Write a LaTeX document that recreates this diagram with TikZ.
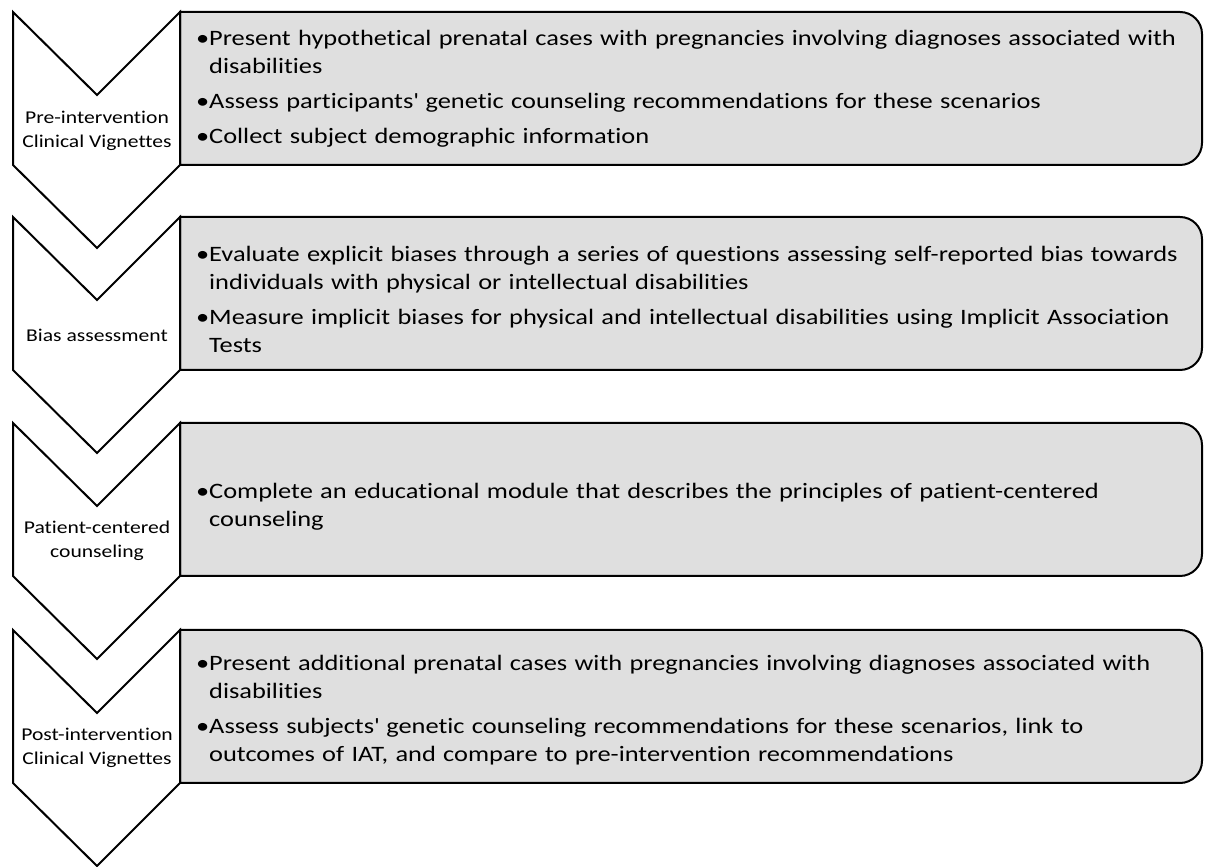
\documentclass[tikz,border=0pt]{standalone}
\usepackage{fontspec}
\setmainfont{Carlito}[FakeStretch=1.2, Ligatures={NoCommon}]
\definecolor{boxgray}{RGB}{223,223,223}
\newcommand{\bitem}[1]{\par\raggedright\hangindent=13pt\hangafter=1\noindent\makebox[13pt][l]{\textbullet}#1\par}
\tikzset{
  chev/.style={draw=black, line width=2pt, fill=white, line join=miter},
  stepbox/.style={draw=black, line width=2pt, fill=boxgray},
  lbl/.style={font=\fontsize{18}{24}\selectfont, align=center, inner sep=0pt},
  body/.style={font=\fontsize{22}{28}\selectfont, text width=1000pt, align=left, inner sep=0pt, anchor=west}
}
\begin{document}
\begin{tikzpicture}[x=1pt,y=1pt]
\useasboundingbox (0,0) rectangle (1205,867);
% tops in image px from top: 12, 217, 423, 630
\foreach \t [count=\i] in {12,217,423,630}{
  \pgfmathsetmacro{\T}{867-\t}
  \pgfmathsetmacro{\B}{867-\t-153}
  \pgfmathsetmacro{\N}{867-\t-83}
  \pgfmathsetmacro{\P}{867-\t-236}
  \draw[stepbox] (180,\T) -- (1180,\T) arc[start angle=90,end angle=0,radius=22] -- (1202,\B+22) arc[start angle=0,end angle=-90,radius=22] -- (180,\B) -- cycle;
  \draw[chev] (13,\T) -- (97,\N) -- (180,\T) -- (180,\B) -- (97,\P) -- (13,\B) -- cycle;
}
\node[lbl] (l1) at (97,867-131) {Pre-intervention\\Clinical Vignettes};
\node[lbl] (l2) at (97,867-335) {Bias assessment};
\node[lbl] (l3) at (97,867-541) {Patient-centered\\counseling};
\node[lbl] (l4) at (97,867-748) {Post-intervention\\Clinical Vignettes};

\node[body] (b1) at (196,867-82) {\bitem{Present hypothetical prenatal cases with pregnancies involving diagnoses associated with\newline disabilities}\vspace{7pt}\bitem{Assess participants\textquotesingle{} genetic counseling recommendations for these scenarios}\vspace{7pt}\bitem{Collect subject demographic information}};
\node[body] (b2) at (196,867-293) {\bitem{Evaluate explicit biases through a series of questions assessing self-reported bias towards\newline individuals with physical or intellectual disabilities}\vspace{7pt}\bitem{Measure implicit biases for physical and intellectual disabilities using Implicit Association\newline Tests}};
\node[body] (b3) at (196,867-500) {\bitem{Complete an educational module that describes the principles of patient-centered\newline counseling}};
\node[body] (b4) at (196,867-704) {\bitem{Present additional prenatal cases with pregnancies involving diagnoses associated with\newline disabilities}\vspace{7pt}\bitem{Assess subjects\textquotesingle{} genetic counseling recommendations for these scenarios, link to\newline outcomes of IAT, and compare to pre-intervention recommendations}};
\end{tikzpicture}
\end{document}
